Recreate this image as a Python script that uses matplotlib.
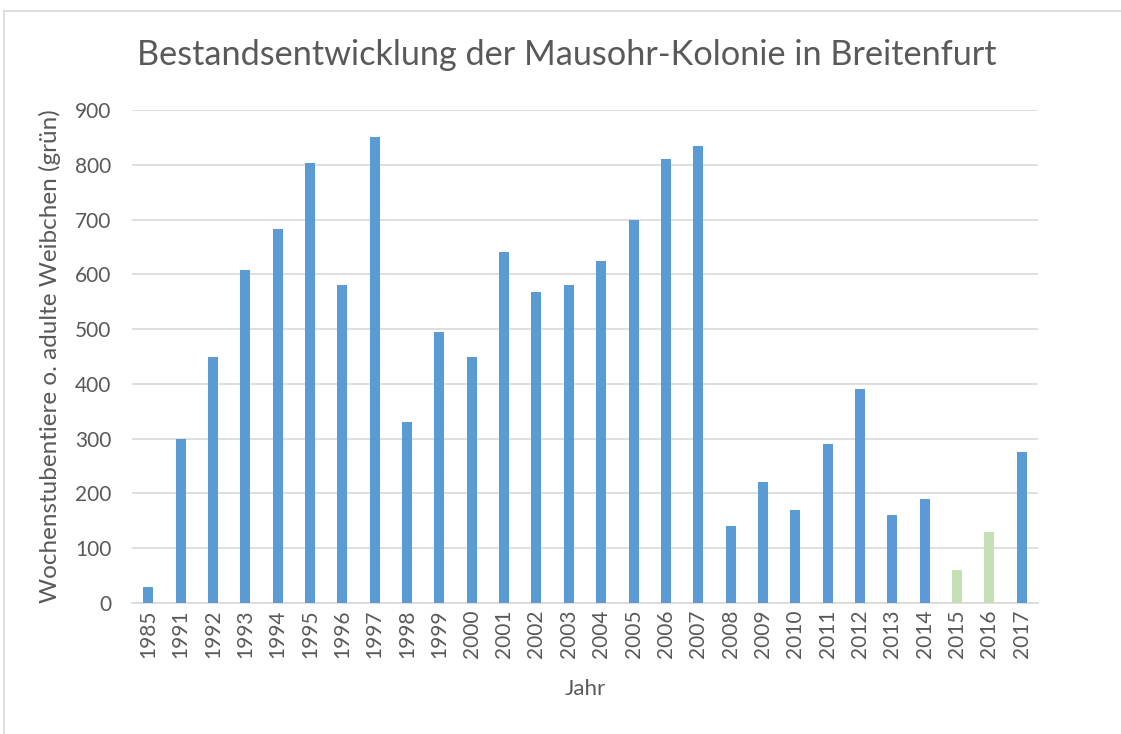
import matplotlib.pyplot as plt
from matplotlib.patches import Rectangle

plt.rcParams['font.family'] = ['Lato', 'DejaVu Sans']

# Jahre und Werte (Wochenstubentiere bzw. adulte Weibchen)
jahre = ["1985", "1991", "1992", "1993", "1994", "1995", "1996", "1997",
         "1998", "1999", "2000", "2001", "2002", "2003", "2004", "2005",
         "2006", "2007", "2008", "2009", "2010", "2011", "2012", "2013",
         "2014", "2015", "2016", "2017"]
werte = [30, 300, 450, 607, 683, 803, 580, 850, 330, 495, 450, 640, 567,
         580, 625, 700, 810, 835, 140, 220, 170, 290, 390, 160, 190, 60,
         130, 275]
# 2015 und 2016: adulte Weibchen (grün)
gruen = ["2015", "2016"]

blau = "#5B9BD5"
hellgruen = "#C5E0B4"
textfarbe = "#595959"

farben = [hellgruen if j in gruen else blau for j in jahre]

fig = plt.figure(figsize=(11.21, 7.34), dpi=100)
ax = fig.add_axes([132 / 1121, 1 - 603 / 734, 906 / 1121, 493 / 734])

x = range(len(jahre))
ax.bar(x, werte, width=0.31, color=farben, zorder=3)

ax.set_xlim(-0.5, len(jahre) - 0.5)
ax.set_ylim(0, 900)
ax.set_yticks(range(0, 901, 100))
ax.set_xticks(list(x))
ax.set_xticklabels(jahre, rotation=90)
ax.tick_params(axis='both', length=0, colors=textfarbe, labelsize=15)
ax.tick_params(axis='x', pad=5)
ax.tick_params(axis='y', pad=15)

ax.grid(axis='y', color="#D9D9D9", linewidth=1.2, zorder=0)
for s in ["top", "right", "left"]:
    ax.spines[s].set_visible(False)
ax.spines["bottom"].set_color("#D9D9D9")
ax.spines["bottom"].set_linewidth(1.2)

ax.set_xlabel("Jahr", fontsize=16, color=textfarbe, labelpad=15)
ax.set_ylabel("Wochenstubentiere o. adulte Weibchen (grün)", fontsize=17.5,
              color=textfarbe, labelpad=10)
fig.text(567 / 1121, 1 - 55 / 734,
         "Bestandsentwicklung der Mausohr-Kolonie in Breitenfurt",
         fontsize=24.7, color=textfarbe, ha='center', va='center')

# Rahmen um das Diagramm
fig.patches.append(Rectangle((4 / 1121, -0.01), 1.1, 1 - 11 / 734 + 0.01,
                             transform=fig.transFigure, fill=False,
                             edgecolor="#D9D9D9", linewidth=1.2))

fig.savefig("out.png", dpi=100)
